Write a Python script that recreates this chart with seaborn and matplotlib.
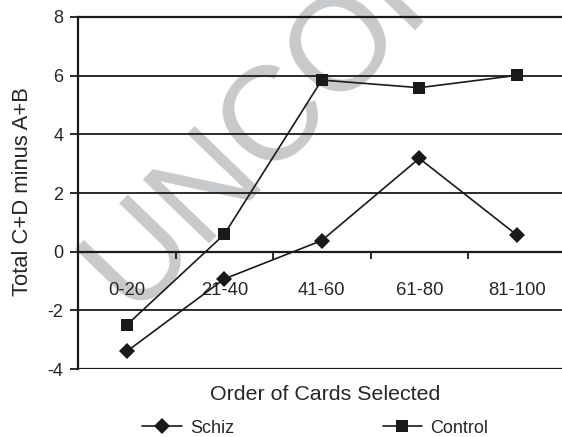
"""
Card-selection chart: Total C+D minus A+B by block of 20 cards,
schizophrenia group vs controls.
"""

import pandas as pd
import matplotlib.pyplot as plt
import seaborn as sns

categories = ["0-20", "21-40", "41-60", "61-80", "81-100"]
schiz = [-3.4, -0.93, 0.38, 3.18, 0.57]
control = [-2.5, 0.59, 5.85, 5.59, 6.01]
y_ticks = [-4, -2, 0, 2, 4, 6, 8]


def build_frame():
    rows = []
    for group, vals in (("Schiz", schiz), ("Control", control)):
        for cat, v in zip(categories, vals):
            rows.append({"block": cat, "score": v, "group": group})
    return pd.DataFrame(rows)


def main():
    sns.set_theme(style="white")
    plt.rcParams["font.family"] = ["Liberation Sans", "DejaVu Sans"]

    df = build_frame()

    fig = plt.figure(figsize=(5.62, 4.37), dpi=100)
    ax = fig.add_axes([0.1388, 0.1556, 0.8675, 0.8055])
    ax.set_axisbelow(True)

    # faint proof watermark behind the data
    ax.text(0.240, 0.266, "UNCORRECTED PROOF", transform=fig.transFigure,
            rotation=46, rotation_mode="anchor", ha="left", va="baseline",
            fontsize=96, color="#c8c9cb", zorder=0.1, clip_on=False)

    sns.lineplot(data=df, x="block", y="score", hue="group", style="group",
                 hue_order=["Schiz", "Control"], style_order=["Schiz", "Control"],
                 palette=["#1a1a1a", "#1a1a1a"],
                 markers={"Schiz": "D", "Control": "s"},
                 dashes=False, markersize=8, linewidth=1.2,
                 markeredgewidth=0, ax=ax)

    ax.set_xlim(-0.5, 4.5)
    ax.set_ylim(-4, 8)

    # horizontal gridlines, Excel style
    ax.set_yticks(y_ticks)
    ax.set_yticklabels([str(t) for t in y_ticks])
    ax.yaxis.grid(True, color="#1a1a1a", linewidth=1.3)
    ax.tick_params(axis="y", direction="out", length=5.5, width=1.3,
                   color="#1a1a1a", labelsize=13, pad=5, left=True)

    # category axis crosses at zero
    ax.spines["bottom"].set_position(("data", 0))
    ax.spines["right"].set_visible(False)
    for side in ("left", "bottom", "top"):
        ax.spines[side].set_color("#1a1a1a")
        ax.spines[side].set_linewidth(1.6)
    ax.axhline(-4, color="#1a1a1a", linewidth=1.6, zorder=1)

    ax.set_xticks([0.5, 1.5, 2.5, 3.5])
    ax.set_xticklabels([])
    ax.set_xticks(range(len(categories)), minor=True)
    ax.set_xticklabels(categories, minor=True)
    ax.tick_params(axis="x", which="major", direction="out", length=5,
                   width=1.3, color="#1a1a1a", bottom=True)
    ax.tick_params(axis="x", which="minor", length=0, pad=21.5, labelsize=13.3)

    ax.set_xlabel("Order of Cards Selected", fontsize=15.4)
    ax.xaxis.set_label_coords(0.507, -0.045)
    ax.set_ylabel("Total C+D minus A+B", fontsize=15.8)
    ax.yaxis.set_label_coords(-0.092, 0.505)

    sns.move_legend(ax, "center", bbox_to_anchor=(0.487, -0.168), ncol=2,
                    frameon=False, title=None, fontsize=13,
                    columnspacing=8.2, handlelength=2.2, handletextpad=0.45)

    fig.savefig("out.png", dpi=100)
    plt.close(fig)


if __name__ == "__main__":
    main()
